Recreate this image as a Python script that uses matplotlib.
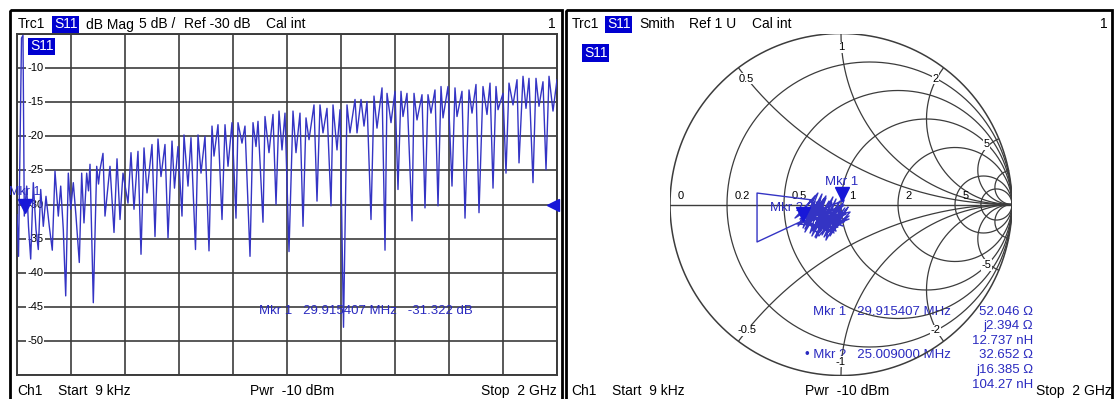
import numpy as np
import matplotlib
matplotlib.use("Agg")
import matplotlib.pyplot as plt
import matplotlib.transforms as mtransforms
from matplotlib.patches import Rectangle

plt.rcParams['font.family'] = ['Liberation Sans', 'DejaVu Sans']

# ---- trace 1: S11 dB Mag (freq in MHz) ----
freq_mhz = [0.009, 5.6, 16.7, 22.2, 27.0, 35.9, 42.6, 50.7, 60.4, 70.4, 78.9, 87.8,
            97.4, 107.4, 119.6, 130.7, 140.7, 153.0, 161.9, 171.5, 180.4, 190.0, 198.9,
            208.5, 218.5, 230.7, 239.6, 248.1, 258.1, 264.8, 270.4, 282.6, 295.2, 301.9,
            307.4, 318.5, 325.9, 344.4, 359.3, 370.4, 381.5, 392.6, 411.1, 422.2, 433.3,
            448.1, 459.3, 470.4, 481.5, 500.0, 511.1, 522.2, 533.3, 548.1, 559.3, 574.1,
            583.3, 596.3, 611.1, 618.5, 633.3, 644.4, 661.1, 670.4, 681.5, 696.3, 711.1,
            722.2, 729.6, 744.4, 759.3, 770.4, 781.5, 796.3, 811.1, 818.5, 833.3, 844.4,
            863.0, 874.1, 885.2, 892.6, 911.1, 918.5, 933.3, 948.1, 959.3, 970.4, 981.5,
            992.6, 1007.4, 1022.2, 1033.3, 1048.1, 1059.3, 1070.4, 1081.5, 1100.0, 1111.1,
            1122.2, 1133.3, 1148.1, 1163.0, 1170.4, 1185.2, 1196.3, 1209.3, 1222.2, 1233.3,
            1251.9, 1259.3, 1274.1, 1285.2, 1296.3, 1311.1, 1322.2, 1333.3, 1351.9, 1363.0,
            1370.4, 1385.2, 1400.0, 1411.1, 1422.2, 1429.6, 1444.4, 1463.0, 1470.4, 1481.5,
            1500.0, 1511.1, 1522.2, 1533.3, 1548.1, 1559.3, 1570.4, 1577.8, 1596.3, 1611.1,
            1622.2, 1629.6, 1648.1, 1659.3, 1674.1, 1685.2, 1700.0, 1711.1, 1725.9, 1740.7,
            1751.9, 1763.0, 1774.1, 1781.5, 1800.0, 1811.1, 1822.2, 1837.0, 1851.9, 1859.3,
            1874.1, 1885.2, 1896.3, 1911.1, 1922.2, 1933.3, 1948.1, 1959.3, 1970.4, 1985.2,
            2000.0]
s11_db = [-31.5, -37.6, -5.6, -5.2, -31.7, -27.3, -33.2, -38.0, -26.8, -33.7, -36.6, -27.8,
          -33.2, -28.8, -33.2, -36.7, -25.1, -31.7, -27.3, -33.7, -43.4, -25.4, -30.7,
          -26.8, -31.7, -38.5, -25.4, -32.7, -25.4, -28.0, -24.1, -44.4, -24.4, -27.0,
          -24.9, -22.5, -31.7, -24.4, -34.1, -23.3, -32.2, -25.4, -29.8, -22.4, -30.7,
          -22.2, -37.3, -21.7, -28.3, -21.2, -34.7, -20.4, -25.9, -21.2, -34.9, -20.7,
          -27.6, -21.5, -31.7, -19.8, -27.3, -20.2, -36.6, -19.8, -25.4, -20.0, -36.8,
          -18.5, -22.9, -18.3, -32.2, -18.3, -24.4, -18.0, -32.0, -18.0, -21.0, -18.5,
          -37.6, -18.0, -21.5, -17.8, -32.6, -17.1, -22.4, -16.8, -30.0, -16.3, -22.0,
          -16.6, -36.9, -16.3, -22.4, -16.6, -33.2, -17.3, -20.5, -15.4, -29.5, -15.4,
          -19.5, -15.9, -30.2, -15.4, -22.0, -16.1, -48.0, -15.4, -19.5, -14.6, -19.5,
          -14.6, -18.5, -14.9, -32.2, -14.1, -18.8, -12.9, -36.7, -13.7, -18.0, -13.4,
          -27.8, -13.4, -17.1, -13.7, -32.4, -13.7, -17.6, -13.9, -30.5, -13.9, -16.6,
          -13.2, -30.2, -12.7, -17.3, -12.7, -27.3, -12.9, -17.1, -13.4, -32.0, -13.2,
          -16.6, -12.4, -31.2, -12.7, -16.8, -12.2, -27.6, -12.7, -16.1, -13.7, -25.4,
          -12.2, -15.4, -11.7, -23.9, -11.2, -15.9, -11.5, -26.8, -11.5, -15.6, -12.0,
          -24.9, -11.2, -16.3, -11.7]

db_ticks = [-10, -15, -20, -25, -30, -35, -40, -45, -50]
ref_level = -30
mkr1_freq = 29.915407
mkr1_db = -31.322

# ---- trace 1 in Smith view (reflection coefficient) ----
smith_re = [-0.164, -0.491, -0.491, -0.240, -0.170, -0.251, -0.123, -0.211, -0.088, -0.170,
            -0.053, -0.135, -0.018, -0.099, 0.029, -0.076, 0.047, -0.064, 0.018, -0.193,
            -0.269, -0.152, -0.222, -0.111, -0.181, -0.070, -0.146, -0.029, -0.111, 0.006,
            -0.064, 0.041, -0.041, 0.053, -0.170, -0.240, -0.135, -0.205, -0.088, -0.164,
            -0.047, -0.123, -0.006, -0.088, 0.023, -0.053, 0.047, -0.029, 0.018,
            -0.187, -0.099, -0.211, -0.129, -0.240, -0.082, -0.152, -0.023, -0.117, 0.029,
            -0.070, -0.175, -0.029, -0.105, -0.205, 0.012, -0.140, -0.053, -0.088, -0.006,
            -0.222, -0.135, -0.047, -0.181, -0.076, -0.158, -0.018, -0.257, -0.111, 0.012,
            -0.064, -0.170, -0.035, -0.129, -0.193, 0.018, -0.094, -0.146, -0.041, -0.123]
smith_im = [0.026, 0.067, -0.219, -0.102, -0.003, -0.126, 0.026, -0.161, 0.038, -0.184,
            0.009, -0.173, -0.009, -0.190, -0.032, -0.161, -0.067, -0.137, -0.102, -0.032,
            -0.079, 0.050, -0.137, 0.061, -0.167, 0.020, -0.196, 0.032, -0.178, 0.003,
            -0.184, -0.015, -0.149, -0.044, -0.091, -0.056, 0.067, -0.114, 0.050, -0.155,
            0.044, -0.161, 0.020, -0.149, -0.020, -0.126, -0.085, -0.102, 0.026,
            -0.061, 0.032, -0.143, 0.003, -0.085, -0.044, -0.190, -0.032, -0.126, -0.056,
            -0.085, -0.126, -0.155, -0.015, -0.056, -0.126, -0.056, -0.050, -0.208, -0.067,
            -0.096, -0.126, -0.091, 0.026, -0.120, -0.026, -0.132, -0.114, -0.079, -0.050,
            -0.032, -0.149, -0.067, -0.184, -0.085, -0.003, -0.096, 0.015, -0.167, -0.044]
mkr_smith_re = [0.006, -0.222]
mkr_smith_im = [0.015, -0.100]

r_circles = [0.2, 0.5, 1, 2, 5, 10]
x_arcs = [0.5, 1, 2, 5, 10]
r_labels = [0, 0.2, 0.5, 1, 2, 5]
x_labels = [0.5, 1, 2, 5]

trace_col = '#3434c4'
mkr_col = '#2a2ac0'
grid_col = '#3c3c3c'

fig = plt.figure(figsize=(11.14, 3.99), dpi=100)

# pixel canvas for frames and header/footer text
bg = fig.add_axes([0, 0, 1, 1])
bg.set_xlim(0, 1114)
bg.set_ylim(399, 0)
bg.axis('off')
bg.add_patch(Rectangle((10, 10), 552, 395, fill=False, ec='black', lw=2))
bg.add_patch(Rectangle((566, 10), 546, 395, fill=False, ec='black', lw=2))


def s11_box(x, y, size=10):
    bg.text(x, y, 'S11', color='white', fontsize=size, va='baseline', ha='left',
            bbox=dict(boxstyle='square,pad=0.12', fc='#0000d0', ec='none'))


hs = 10
# left header / footer
bg.text(18, 28.5, 'Trc1', fontsize=hs, va='baseline')
s11_box(54, 28.5)
bg.text(86, 28.5, 'dB Mag', fontsize=hs, va='baseline')
bg.text(139, 28.5, '5 dB /', fontsize=hs, va='baseline')
bg.text(184, 28.5, 'Ref -30 dB', fontsize=hs, va='baseline')
bg.text(266, 28.5, 'Cal int', fontsize=hs, va='baseline')
bg.text(556, 28.5, '1', fontsize=hs, va='baseline', ha='right')
bg.text(17, 395, 'Ch1', fontsize=hs, va='baseline')
bg.text(58, 395, 'Start  9 kHz', fontsize=hs, va='baseline')
bg.text(250, 395, 'Pwr  -10 dBm', fontsize=hs, va='baseline')
bg.text(557, 395, 'Stop  2 GHz', fontsize=hs, va='baseline', ha='right')
s11_box(30, 50.5)

# right header / footer
bg.text(572, 28.5, 'Trc1', fontsize=hs, va='baseline')
s11_box(607, 28.5)
bg.text(639, 28.5, 'Smith', fontsize=hs, va='baseline')
bg.text(689, 28.5, 'Ref 1 U', fontsize=hs, va='baseline')
bg.text(752, 28.5, 'Cal int', fontsize=hs, va='baseline')
bg.text(1108, 28.5, '1', fontsize=hs, va='baseline', ha='right')
bg.text(571, 395, 'Ch1', fontsize=hs, va='baseline')
bg.text(612, 395, 'Start  9 kHz', fontsize=hs, va='baseline')
bg.text(805, 395, 'Pwr  -10 dBm', fontsize=hs, va='baseline')
bg.text(1112, 395, 'Stop  2 GHz', fontsize=hs, va='baseline', ha='right')
s11_box(584, 57)

# ---- left: dB magnitude ----
W, H = 1114, 399
ax = fig.add_axes([17 / W, (H - 375) / H, 540 / W, 341 / H])
ax.patch.set_alpha(0)
ax.set_xlim(0, 2000)
ax.set_ylim(-55, -5)
ax.set_xticks(np.linspace(0, 2000, 11))
ax.set_yticks(np.arange(-55, -4, 5))
ax.grid(True, color=grid_col, lw=1.2)
ax.tick_params(length=0, labelbottom=False, labelleft=False)
for sp in ax.spines.values():
    sp.set_color(grid_col)
    sp.set_linewidth(1.4)
ax.plot(freq_mhz, s11_db, color=trace_col, lw=1.0, zorder=3)

lab_tr = mtransforms.blended_transform_factory(ax.transAxes, ax.transData)
for v in db_ticks:
    ax.text(0.034, v, str(v), transform=lab_tr, fontsize=8, ha='center', va='center',
            zorder=2, bbox=dict(boxstyle='square,pad=0.1', fc='white', ec='none'))

up = mtransforms.offset_copy(ax.transData, fig=fig, x=0, y=5.5, units='points')
ax.plot([mkr1_freq], [mkr1_db], marker='v', ms=10, color='#1818d8', transform=up,
        clip_on=False, zorder=5)
up2 = mtransforms.offset_copy(ax.transData, fig=fig, x=0, y=11.5, units='points')
ax.text(mkr1_freq, mkr1_db, 'Mkr 1', transform=up2, color=mkr_col, fontsize=9,
        ha='center', va='bottom', zorder=5, clip_on=False)
left_sh = mtransforms.offset_copy(ax.transData, fig=fig, x=-3, y=0, units='points')
ax.plot([2000], [ref_level], marker='<', ms=8, color='#1818d8', transform=left_sh,
        clip_on=False, zorder=5)
ax.text(0.448, 0.188, 'Mkr 1   29.915407 MHz   -31.322 dB', transform=ax.transAxes,
        color=mkr_col, fontsize=9.5, ha='left', va='center', zorder=4)

# ---- right: Smith chart ----
sx = fig.add_axes([670 / W, (H - 375.5) / H, 342 / W, 342 / H])
sx.patch.set_alpha(0)
sx.set_xlim(-1, 1)
sx.set_ylim(-1, 1)
sx.axis('off')

t = np.linspace(0, 2 * np.pi, 721)
sx.plot(np.cos(t), np.sin(t), color=grid_col, lw=1.1)
sx.plot([-1, 1], [0, 0], color=grid_col, lw=1.0)
for r in r_circles:
    c, rad = r / (1 + r), 1 / (1 + r)
    sx.plot(c + rad * np.cos(t), rad * np.sin(t), color=grid_col, lw=0.9)
for xv in x_arcs:
    for sgn in (1, -1):
        cy, rad = sgn / xv, 1 / xv
        px = 1 + rad * np.cos(t)
        py = cy + rad * np.sin(t)
        inside = px ** 2 + py ** 2 <= 1.0005
        px = np.where(inside, px, np.nan)
        py = np.where(inside, py, np.nan)
        sx.plot(px, py, color=grid_col, lw=0.9)

for r in r_labels:
    g = (r - 1) / (r + 1)
    sx.text(g + 0.045, 0.05, str(r), fontsize=8, ha='left', va='center')
for xv in x_labels:
    for sgn in (1, -1):
        z = complex(0, sgn * xv)
        g = (z - 1) / (z + 1) * 0.92
        lab = str(xv) if sgn > 0 else '-' + str(xv)
        sx.text(g.real, g.imag, lab, fontsize=8, ha='center', va='center',
                bbox=dict(boxstyle='square,pad=0.05', fc='white', ec='none'))

sx.plot(smith_re, smith_im, color=trace_col, lw=1.0, zorder=3)
sup = mtransforms.offset_copy(sx.transData, fig=fig, x=0, y=5.5, units='points')
sx.plot(mkr_smith_re, mkr_smith_im, ls='none', marker='v', ms=10, color='#1818d8',
        transform=sup, zorder=5)
sup2 = mtransforms.offset_copy(sx.transData, fig=fig, x=0, y=10, units='points')
sx.text(mkr_smith_re[0], mkr_smith_im[0], 'Mkr 1', transform=sup2, color=mkr_col,
        fontsize=9.5, ha='center', va='bottom', zorder=5)
sx.text(mkr_smith_re[1], mkr_smith_im[1], 'Mkr 2', transform=sup, color=mkr_col,
        fontsize=9.5, ha='right', va='bottom', zorder=2)

# marker readout
bg.text(813, 312, 'Mkr 1   29.915407 MHz', color=mkr_col, fontsize=9.5, va='center')
bg.text(805, 355, '\u2022 Mkr 2   25.009000 MHz', color=mkr_col, fontsize=9.5, va='center')
vals = ['52.046 \u03a9', 'j2.394 \u03a9', '12.737 nH', '32.652 \u03a9', 'j16.385 \u03a9', '104.27 nH']
rows = [312, 326, 341, 355, 370, 385]
for v, yy in zip(vals, rows):
    bg.text(1033, yy, v, color=mkr_col, fontsize=9.5, ha='right', va='center')

fig.savefig('out.png', dpi=100)
